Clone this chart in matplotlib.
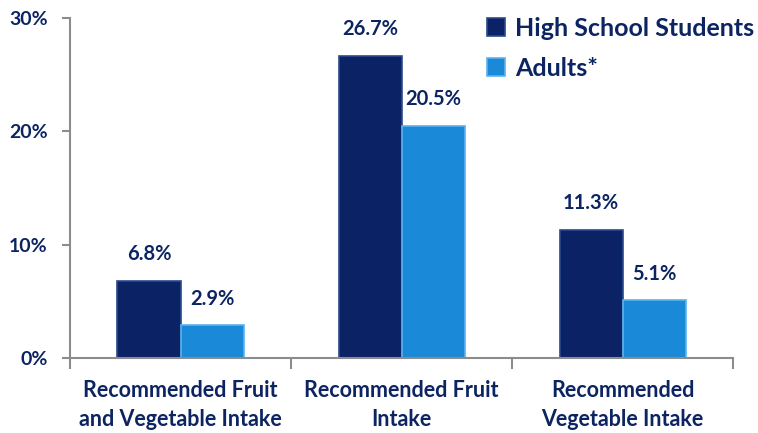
import numpy as np
import matplotlib
matplotlib.use("Agg")
import matplotlib.pyplot as plt

# Données
categories = ["Recommended Fruit\nand Vegetable Intake",
              "Recommended Fruit\nIntake",
              "Recommended\nVegetable Intake"]
high_school = [6.8, 26.7, 11.3]
adults = [2.9, 20.5, 5.1]
series_names = ["High School Students", "Adults*"]

navy = "#0c2461"
dark_bar = "#0b2265"
light_bar = "#1a8ad8"
grey = "#8c8c8c"

plt.rcParams['font.family'] = ['Lato', 'DejaVu Sans']
plt.rcParams['font.weight'] = 'bold'

fig = plt.figure(figsize=(7.58, 4.33), dpi=100)
ax = fig.add_axes([0.0923, 0.173, 0.875, 0.785])

x = np.arange(len(categories))
w = 0.285
b1 = ax.bar(x - w / 2, high_school, w, color=dark_bar, edgecolor="#2a4a8f", linewidth=1.2,
            label=series_names[0])
b2 = ax.bar(x + w / 2, adults, w, color=light_bar, edgecolor="#5bb2ee", linewidth=1.2,
            label=series_names[1])

for bars, vals in ((b1, high_school), (b2, adults)):
    for rect, v in zip(bars, vals):
        ax.annotate(f"{v:.1f}%", (rect.get_x() + rect.get_width() / 2, v),
                    xytext=(0, 12), textcoords="offset points", ha="center", va="bottom",
                    fontsize=14.5, fontweight="bold", color=navy)

ax.set_xlim(-0.5, len(categories) - 0.5)
ax.set_ylim(0, 30)
ax.set_yticks([0, 10, 20, 30])
ax.set_yticklabels([f"{t}%" for t in [0, 10, 20, 30]], fontsize=14, fontweight="bold", color=navy)
ax.set_xticks(x)
ax.set_xticklabels(categories, fontsize=15.5, fontweight="bold", color=navy, linespacing=1.45)
ax.set_xticks(np.arange(len(categories) + 1) - 0.5, minor=True)
ax.tick_params(axis="x", which="major", length=0, pad=16)
ax.tick_params(axis="x", which="minor", length=8, color=grey, width=1.5)
ax.tick_params(axis="y", length=6, color=grey, width=1.5, pad=10)

for s in ["top", "right"]:
    ax.spines[s].set_visible(False)
ax.spines["left"].set_color(grey)
ax.spines["bottom"].set_color(grey)
ax.spines["left"].set_linewidth(1.5)
ax.spines["bottom"].set_linewidth(1.5)

leg = ax.legend(loc="upper right", bbox_to_anchor=(1.065, 1.07), frameon=False,
                prop={"size": 18, "weight": "bold"}, handlelength=0.7, handleheight=0.7,
                handletextpad=0.4, labelspacing=0.68)
for t in leg.get_texts():
    t.set_color(navy)

fig.savefig("out.png", dpi=100)
